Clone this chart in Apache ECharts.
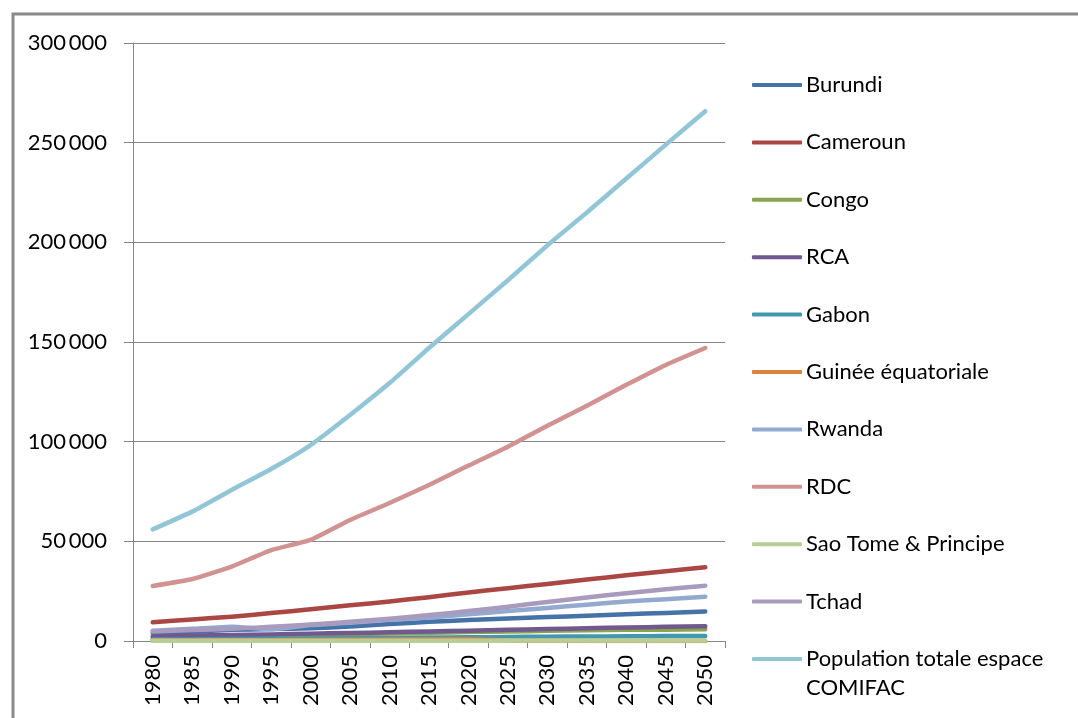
<!DOCTYPE html>
<html>
<head>
<meta charset="utf-8">
<script src="https://cdn.jsdelivr.net/npm/echarts@6/dist/echarts.min.js"></script>
<style>
html,body{margin:0;padding:0;background:#fff;}
#chart{width:1078px;height:718px;}
</style>
</head>
<body>
<div id="chart"></div>
<script>
// Categories (years)
var years = ['1980','1985','1990','1995','2000','2005','2010','2015','2020','2025','2030','2035','2040','2045','2050'];

// Series values (thousands of inhabitants)
var burundi    = [4100, 4700, 5600, 6000, 6400, 7300, 8500, 9600, 10500, 11300, 12000, 12700, 13400, 14100, 14800];
var cameroun   = [9400, 10800, 12200, 14000, 15900, 17900, 19800, 22000, 24300, 26500, 28600, 30800, 33000, 35000, 37000];
var congo      = [1800, 2100, 2400, 2700, 3100, 3400, 3800, 4100, 4500, 4800, 5100, 5400, 5600, 5700, 5900];
var rca        = [2400, 2700, 3000, 3300, 3700, 4000, 4400, 4800, 5200, 5600, 6000, 6400, 6800, 7100, 7400];
var gabon      = [700, 800, 950, 1100, 1250, 1400, 1550, 1700, 1850, 2000, 2150, 2250, 2350, 2450, 2500];
var guinee     = [220, 300, 370, 420, 530, 620, 720, 800, 850, 300, 100, 60, 50, 50, 50];
var rwanda     = [5200, 6100, 7200, 5900, 8000, 9100, 10600, 11800, 13400, 15000, 16600, 18200, 19800, 21000, 22200];
var rdc        = [27600, 31100, 37300, 45600, 50700, 60700, 69200, 78300, 88000, 97500, 108000, 118000, 128500, 138500, 147000];
var saoTome    = [100, 110, 120, 130, 140, 150, 160, 170, 180, 190, 200, 210, 220, 230, 240];
var tchad      = [4800, 5500, 6100, 7100, 8300, 9600, 11200, 13000, 15000, 17200, 19600, 21800, 24000, 26000, 27700];
var total      = [56000, 64900, 75800, 86300, 98300, 113400, 129400, 147000, 164000, 181000, 198500, 215000, 232000, 249000, 265800];

// Series names and colours
var names = ['Burundi','Cameroun','Congo','RCA','Gabon','Guinée équatoriale','Rwanda','RDC','Sao Tome & Principe','Tchad','Population totale espace COMIFAC'];
var values = [burundi, cameroun, congo, rca, gabon, guinee, rwanda, rdc, saoTome, tchad, total];
var colors = ['#4572A7','#AA4643','#89A54E','#71588F','#4198AF','#DB843D','#93A9CF','#D19392','#B9CD96','#A99BBD','#92C5D6'];

// Y tick labels
var yMax = 300000, yStep = 50000;

var FONT = 'Lato, "Open Sans", "Liberation Sans", sans-serif';

var series = names.map(function (n, i) {
  return {
    name: n,
    type: 'line',
    data: values[i],
    symbol: 'none',
    smooth: 0.15,
    lineStyle: { color: colors[i], width: 4.5, cap: 'round', join: 'round' },
    itemStyle: { color: colors[i] },
    z: 2 + i
  };
});

var chart = echarts.init(document.getElementById('chart'), null, { renderer: 'canvas' });
chart.setOption({
  animation: false,
  backgroundColor: '#ffffff',
  grid: { left: 133, right: 353, top: 43, bottom: 77, containLabel: false },
  xAxis: {
    type: 'category',
    data: years,
    boundaryGap: true,
    axisLine: { show: false },
    axisTick: { show: true, length: 7, alignWithLabel: false, lineStyle: { color: '#868686', width: 1 } },
    axisLabel: { rotate: 90, margin: 14, color: '#000', fontSize: 22, fontFamily: FONT, interval: 0 },
    splitLine: { show: false }
  },
  yAxis: {
    type: 'value',
    min: 0, max: yMax, interval: yStep,
    axisLine: { show: true, lineStyle: { color: '#868686', width: 1 } },
    axisTick: { show: true, length: 9, lineStyle: { color: '#868686', width: 1 } },
    axisLabel: {
      margin: 26, color: '#000', fontSize: 22, fontFamily: FONT,
      formatter: function (v) {
        return String(v).replace(/\B(?=(\d{3})+(?!\d))/g, '\u2009');
      }
    },
    splitLine: { show: true, lineStyle: { color: '#868686', width: 1 } }
  },
  legend: {
    orient: 'vertical',
    left: 747, top: 67,
    icon: 'roundRect',
    itemWidth: 50, itemHeight: 4,
    itemGap: 31.4,
    selectedMode: false,
    textStyle: { color: '#000', fontSize: 22, fontFamily: FONT, lineHeight: 26, padding: [0,0,0,-1] },
    formatter: function (n) {
      return n === 'Population totale espace COMIFAC' ? 'Population totale espace' : n;
    },
    data: names
  },
  graphic: [
    { type: 'rect', silent: true, z: 100,
      shape: { x: 13, y: 14, width: 1200, height: 900 },
      style: { fill: 'none', stroke: '#8a8a8a', lineWidth: 3 } },
    { type: 'text', silent: true, left: 806, top: 677,
      style: { text: 'COMIFAC', fill: '#000', font: '22px ' + FONT } }
  ],
  series: series
});
</script>
</body>
</html>
